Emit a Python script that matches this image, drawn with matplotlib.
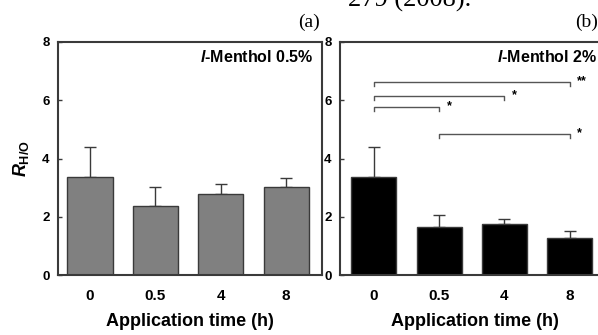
import matplotlib
matplotlib.use("Agg")
import matplotlib.pyplot as plt

plt.rcParams['font.family'] = ['Liberation Sans', 'DejaVu Sans']
plt.rcParams['mathtext.fontset'] = 'custom'
plt.rcParams['mathtext.rm'] = 'Liberation Sans:bold'
plt.rcParams['mathtext.it'] = 'Liberation Sans:italic:bold'
plt.rcParams['mathtext.bf'] = 'Liberation Sans:bold'

times = ["0", "0.5", "4", "8"]
mean_low = [3.37, 2.37, 2.78, 3.02]
err_low = [1.03, 0.65, 0.35, 0.31]
mean_high = [3.37, 1.65, 1.75, 1.27]
err_high = [1.03, 0.41, 0.17, 0.24]

# significance pairs (i, j, height, label)
sig_pairs = [(0, 3, 6.63, "**"), (0, 2, 6.15, "*"), (0, 1, 5.77, "*"), (1, 3, 4.84, "*")]

spine_col = "#3a3a3a"
fig = plt.figure(figsize=(5.98, 3.35), dpi=100)

ax_a = fig.add_axes([58 / 598, 1 - 275 / 335, 264 / 598, 233 / 335])
ax_b = fig.add_axes([340 / 598, 1 - 275 / 335, 270 / 598, 233 / 335])


def draw_panel(ax, means, errs, color, xlim):
    x = list(range(len(times)))
    ax.bar(x, means, width=0.69, color=color, edgecolor=spine_col, linewidth=1.0, zorder=2)
    ax.errorbar(x, means, yerr=[[0] * len(errs), errs], fmt='none', ecolor=spine_col,
                elinewidth=1.0, capsize=4, capthick=1.0, zorder=1)
    ax.set_xlim(*xlim)
    ax.set_ylim(0, 8)
    ax.set_yticks([0, 2, 4, 6, 8])
    ax.set_xticks(x)
    ax.set_xticklabels(times)
    ax.tick_params(axis='x', length=0, pad=10, labelsize=11)
    ax.tick_params(axis='y', direction='in', length=3, width=1, color=spine_col,
                   pad=6, labelsize=9.5)
    for lab in ax.get_xticklabels() + ax.get_yticklabels():
        lab.set_fontweight('bold')
    for sp in ax.spines.values():
        sp.set_color(spine_col)
        sp.set_linewidth(1.5)
    ax.set_xlabel("Application time (h)", fontsize=13, fontweight='bold', labelpad=7)


draw_panel(ax_a, mean_low, err_low, "#808080", (-0.49, 3.55))
draw_panel(ax_b, mean_high, err_high, "#000000", (-0.52, 3.62))
ax_b.spines['right'].set_visible(False)

ax_a.set_ylabel(r"$\mathit{R}_{\mathrm{H/O}}$", fontsize=13, labelpad=8)

drop = 0.15
for i, j, h, lab in sig_pairs:
    ax_b.plot([i, i, j, j], [h - drop, h, h, h - drop], color="#555555", lw=1.0)
    ax_b.text(j + 0.12, h + 0.02, lab, fontsize=9, fontweight='bold', ha='left', va='center')

fig.text(314 / 598, 1 - 57 / 335, r"$\mathit{l}$-Menthol 0.5%", fontsize=11.5,
         fontweight='bold', ha='right', va='center')
fig.text(597 / 598, 1 - 57 / 335, r"$\mathit{l}$-Menthol 2%", fontsize=11.5,
         fontweight='bold', ha='right', va='center')

fig.text(320 / 598, 1 - 22 / 335, "(a)", family='Liberation Serif', fontsize=14,
         ha='right', va='center')
fig.text(598 / 598, 1 - 22 / 335, "(b)", family='Liberation Serif', fontsize=14,
         ha='right', va='center')
fig.text(410 / 598, 1 - 7 / 335, "279 (2008).", family='Liberation Serif', fontsize=19,
         ha='center', va='baseline')

fig.savefig("out.png", dpi=100)
